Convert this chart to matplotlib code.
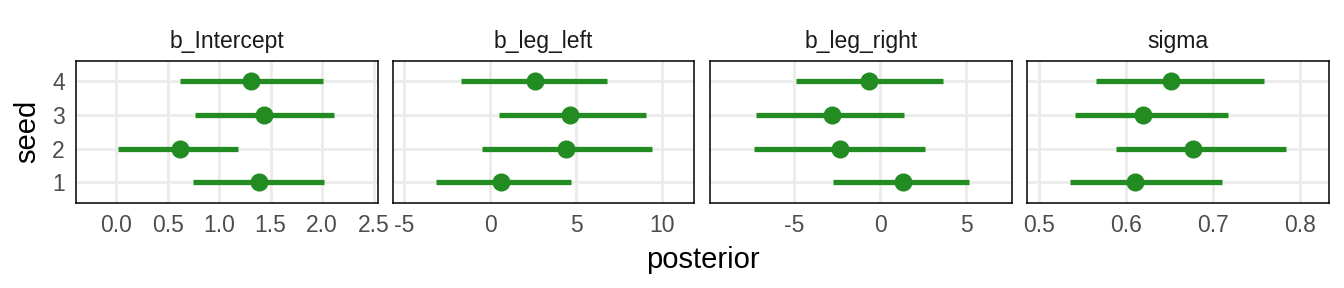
import numpy as np
import matplotlib.pyplot as plt

plt.rcParams['font.family'] = ['Liberation Sans', 'DejaVu Sans']

seeds = [1, 2, 3, 4]
params = ['b_Intercept', 'b_leg_left', 'b_leg_right', 'sigma']

# posterior estimate and interval per seed (1..4)
est = {
    'b_Intercept': [1.39, 0.62, 1.44, 1.31],
    'b_leg_left':  [0.64, 4.39, 4.66, 2.63],
    'b_leg_right': [1.32, -2.34, -2.79, -0.68],
    'sigma':       [0.611, 0.677, 0.620, 0.652],
}
lower = {
    'b_Intercept': [0.75, 0.02, 0.77, 0.62],
    'b_leg_left':  [-3.14, -0.48, 0.52, -1.70],
    'b_leg_right': [-2.77, -7.37, -7.21, -4.90],
    'sigma':       [0.536, 0.589, 0.541, 0.566],
}
upper = {
    'b_Intercept': [2.02, 1.18, 2.12, 2.01],
    'b_leg_left':  [4.68, 9.39, 9.06, 6.79],
    'b_leg_right': [5.16, 2.60, 1.36, 3.65],
    'sigma':       [0.711, 0.784, 0.718, 0.759],
}

xlims = {
    'b_Intercept': (-0.39, 2.54),
    'b_leg_left':  (-5.66, 11.86),
    'b_leg_right': (-9.9, 7.64),
    'sigma':       (0.4865, 0.8337),
}
xticks = {
    'b_Intercept': [0.0, 0.5, 1.0, 1.5, 2.0, 2.5],
    'b_leg_left':  [-5, 0, 5, 10],
    'b_leg_right': [-5, 0, 5],
    'sigma':       [0.5, 0.6, 0.7, 0.8],
}
xticklabels = {
    'b_Intercept': ['0.0', '0.5', '1.0', '1.5', '2.0', '2.5'],
    'b_leg_left':  ['-5', '0', '5', '10'],
    'b_leg_right': ['-5', '0', '5'],
    'sigma':       ['0.5', '0.6', '0.7', '0.8'],
}

green = '#228B22'
W, H = 1344, 288
fig = plt.figure(figsize=(W / 100, H / 100), dpi=100)

lefts = [76, 392.7, 710, 1027.3]
pw = 301.7
top, bottom = 60.7, 202.7

for i, p in enumerate(params):
    ax = fig.add_axes([lefts[i] / W, 1 - bottom / H, pw / W, (bottom - top) / H])
    ax.hlines(seeds, lower[p], upper[p], color=green, lw=3.8, zorder=3)
    ax.plot(est[p], seeds, 'o', color=green, ms=12, zorder=4)
    ax.set_xlim(*xlims[p])
    ax.set_ylim(0.4, 4.6)
    ax.set_xticks(xticks[p])
    ax.set_xticklabels(xticklabels[p])
    ax.set_yticks(seeds)
    if i > 0:
        ax.set_yticklabels([])
    ax.grid(True, color='#EBEBEB', lw=2.0, zorder=0)
    ax.set_axisbelow(True)
    ax.tick_params(length=0, labelsize=16.5, labelcolor='#4D4D4D', pad=8)
    for s in ax.spines.values():
        s.set_color('black')
        s.set_linewidth(1.1)
    ax.set_title(p, fontsize=16.5, color='#1A1A1A', pad=9)

fig.text(27 / W, 1 - 131.7 / H, 'seed', rotation=90, ha='center', va='center', fontsize=21)
fig.text(702.5 / W, 1 - 260 / H, 'posterior', ha='center', va='center', fontsize=21)

fig.savefig('out.png', dpi=100)
